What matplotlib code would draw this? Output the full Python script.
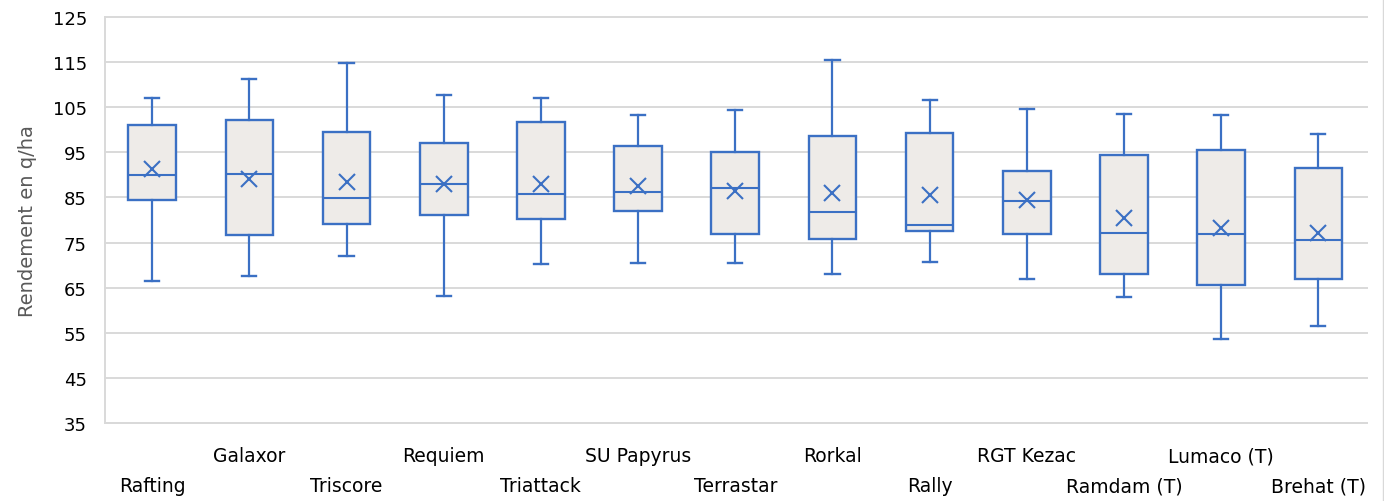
import numpy as np
from matplotlib import pyplot as plt

# Varieties and box statistics (q/ha)
varieties = ['Rafting', 'Galaxor', 'Triscore', 'Requiem', 'Triattack', 'SU Papyrus',
             'Terrastar', 'Rorkal', 'Rally', 'RGT Kezac', 'Ramdam (T)', 'Lumaco (T)',
             'Brehat (T)']
whisker_low = [66.4, 67.6, 72.0, 63.1, 70.3, 70.4, 70.5, 68.1, 70.7, 66.9, 63.0, 53.6, 56.5]
q1 = [84.4, 76.7, 79.2, 81.1, 80.2, 81.9, 76.9, 75.8, 77.5, 76.8, 68.0, 65.6, 67.0]
median = [90.0, 90.1, 84.8, 87.9, 85.7, 86.1, 87.1, 81.8, 78.9, 84.3, 77.2, 76.9, 75.5]
q3 = [101.1, 102.2, 99.6, 97.1, 101.8, 96.5, 95.1, 98.7, 99.3, 90.9, 94.3, 95.6, 91.5]
whisker_high = [107.0, 111.3, 114.7, 107.8, 107.1, 103.2, 104.3, 115.5, 106.5, 104.6, 103.5, 103.2, 99.0]
mean = [91.3, 89.1, 88.5, 88.0, 87.9, 87.5, 86.5, 85.9, 85.6, 84.4, 80.4, 78.3, 77.2]

blue = '#3B70C4'
face = '#EEEBE8'
grid = '#D9D9D9'

stats = []
for i in range(len(varieties)):
    stats.append({'whislo': whisker_low[i], 'q1': q1[i], 'med': median[i],
                  'q3': q3[i], 'whishi': whisker_high[i], 'mean': mean[i],
                  'fliers': [], 'label': varieties[i]})

fig = plt.figure(figsize=(13.84, 5.02), dpi=100)
ax = fig.add_axes([105/1384, 78/502, 1262/1384, 406/502])

pos = np.arange(len(varieties))
ax.bxp(stats, positions=pos, widths=0.49, patch_artist=True, showmeans=True,
       boxprops=dict(facecolor=face, edgecolor=blue, linewidth=1.7),
       medianprops=dict(color=blue, linewidth=1.5),
       whiskerprops=dict(color=blue, linewidth=1.6),
       capprops=dict(color=blue, linewidth=1.7),
       capwidths=0.145,
       meanprops=dict(marker='x', markersize=11, markeredgecolor=blue,
                      markeredgewidth=1.5),
       zorder=3)

ax.set_ylim(35, 125)
ax.set_xlim(-0.485, 12.5)
ax.set_yticks(np.arange(35, 126, 10))
ax.tick_params(axis='y', length=0, pad=13, labelsize=13, labelcolor='#000000')
ax.grid(axis='y', color=grid, linewidth=1.4, zorder=0)
ax.set_axisbelow(True)
for l in ax.get_ygridlines():
    l.set_clip_on(False)
for s in ['top', 'right']:
    ax.spines[s].set_visible(False)
ax.spines['left'].set_color(grid)
ax.spines['left'].set_linewidth(1.4)
ax.spines['bottom'].set_color(grid)
ax.spines['bottom'].set_linewidth(1.4)

# Category labels on two staggered rows
ax.set_xticks([])
for i, name in enumerate(varieties):
    off = -27.7 if i % 2 == 1 else -49.3
    ax.annotate(name, xy=(pos[i], 0), xycoords=('data', 'axes fraction'),
                xytext=(0, off), textcoords='offset points',
                ha='center', va='baseline', fontsize=13.5)

ax.set_ylabel('Rendement en q/ha', fontsize=14, color='#595959', labelpad=11)

# outer chart border on the right
fig.add_artist(plt.Line2D([1382.5/1384, 1382.5/1384], [0, 1], color=grid, linewidth=1))

fig.savefig('out.png', dpi=100)
